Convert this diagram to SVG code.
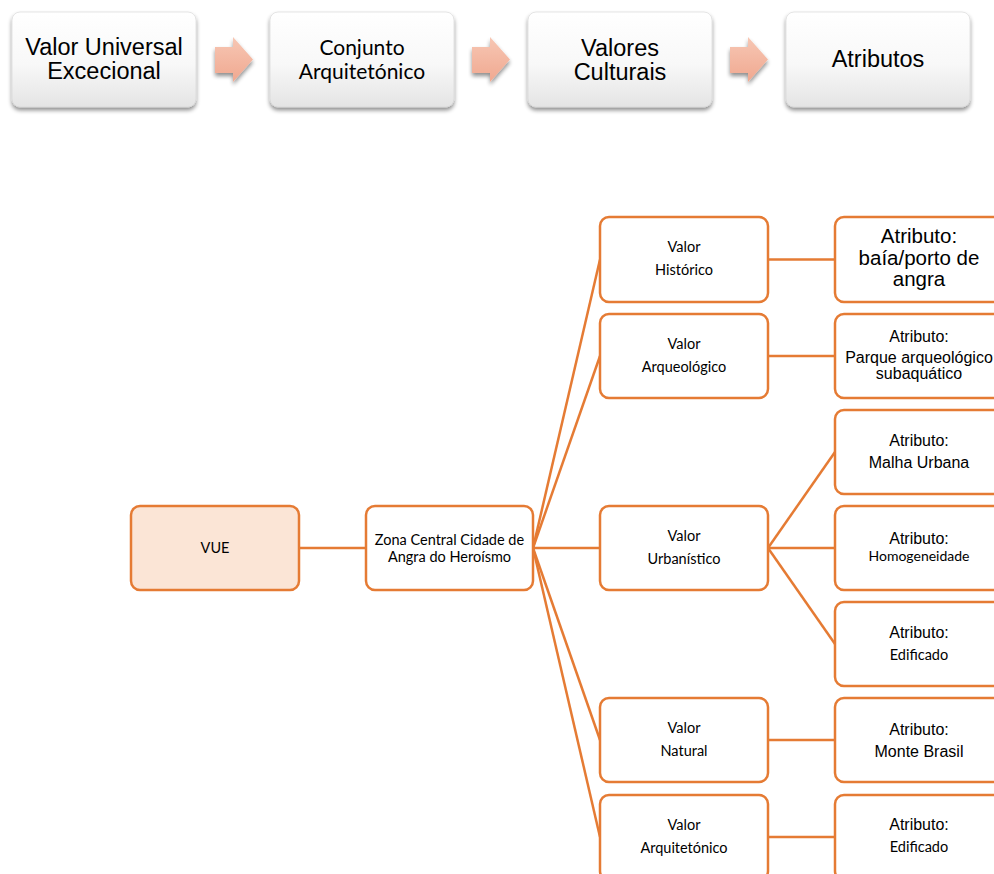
<svg xmlns="http://www.w3.org/2000/svg" width="994" height="874" viewBox="0 0 994 874">
<defs>
  <linearGradient id="boxGrad" x1="0" y1="0" x2="0" y2="1">
    <stop offset="0" stop-color="#FFFFFF"/>
    <stop offset="0.55" stop-color="#F8F8F8"/>
    <stop offset="1" stop-color="#E4E4E4"/>
  </linearGradient>
  <linearGradient id="arrowGrad" x1="0" y1="0" x2="0" y2="1">
    <stop offset="0" stop-color="#F7C7B4"/>
    <stop offset="1" stop-color="#F0A890"/>
  </linearGradient>
  <filter id="shadow" x="-10%" y="-10%" width="120%" height="130%">
    <feGaussianBlur in="SourceAlpha" stdDeviation="2"/>
    <feOffset dx="0" dy="3" result="b"/>
    <feComponentTransfer><feFuncA type="linear" slope="0.45"/></feComponentTransfer>
    <feMerge><feMergeNode/><feMergeNode in="SourceGraphic"/></feMerge>
  </filter>
  <polygon id="arrowShape" points="0,10 18,10 18,0 38,22.5 18,45 18,36 0,36"/>
</defs>
<style>
  .top { fill: url(#boxGrad); stroke: #D4D4D4; stroke-width: 0.6; filter: url(#shadow); }
  .arr { fill: url(#arrowGrad); filter: url(#shadow); }
  .node { fill: #FFFFFF; stroke: #E57B34; stroke-width: 2.5; }
  .vue { fill: #FBE5D6; stroke: #E57B34; stroke-width: 2.5; }
  .conn line { stroke: #E57B34; stroke-width: 2.5; fill: none; }
  .ar { font-family: "Liberation Sans", Arial, sans-serif; fill: #000; text-anchor: middle; }
  .ca { font-family: Lato, "Open Sans", sans-serif; fill: #000; text-anchor: middle; }
</style>

<!-- Top flow -->
<g id="top-vue">
  <rect class="top" x="12" y="12" width="184" height="95" rx="8"/>
  <text class="ar" x="104" y="55" font-size="23.5">Valor Universal</text>
  <text class="ar" x="104" y="79" font-size="23.5">Excecional</text>
</g>
<g id="top-conjunto">
  <rect class="top" x="270" y="12" width="184" height="95" rx="8"/>
  <text class="ca" x="362" y="55" font-size="21">Conjunto</text>
  <text class="ca" x="362" y="79" font-size="21">Arquitetónico</text>
</g>
<g id="top-valores">
  <rect class="top" x="528" y="12" width="184" height="95" rx="8"/>
  <text class="ar" x="620" y="56" font-size="23.5">Valores</text>
  <text class="ar" x="620" y="80" font-size="23.5">Culturais</text>
</g>
<g id="top-atributos">
  <rect class="top" x="786" y="12" width="184" height="95" rx="8"/>
  <text class="ar" x="878" y="67" font-size="23.5">Atributos</text>
</g>
<g id="top-arrows">
  <use href="#arrowShape" class="arr" x="215" y="37"/>
  <use href="#arrowShape" class="arr" x="472" y="37"/>
  <use href="#arrowShape" class="arr" x="730" y="37"/>
</g>

<!-- Connectors -->
<g id="connectors" class="conn">
  <line x1="299" y1="548" x2="366" y2="548"/>
  <line x1="533" y1="548" x2="600" y2="259.5"/>
  <line x1="533" y1="548" x2="600" y2="356"/>
  <line x1="533" y1="548" x2="600" y2="548"/>
  <line x1="533" y1="548" x2="600" y2="740"/>
  <line x1="533" y1="548" x2="600" y2="837"/>
  <line x1="768" y1="259.5" x2="835" y2="259.5"/>
  <line x1="768" y1="356" x2="835" y2="356"/>
  <line x1="768" y1="548" x2="835" y2="452"/>
  <line x1="768" y1="548" x2="835" y2="548"/>
  <line x1="768" y1="548" x2="835" y2="644"/>
  <line x1="768" y1="740" x2="835" y2="740"/>
  <line x1="768" y1="837" x2="835" y2="837"/>
</g>

<!-- Tree nodes -->
<g id="n-vue">
  <rect class="vue" x="131" y="506" width="168" height="84" rx="9"/>
  <text class="ca" x="215" y="553" font-size="14.5">VUE</text>
</g>
<g id="n-zona">
  <rect class="node" x="366" y="506" width="167" height="84" rx="9"/>
  <text class="ca" x="449.5" y="545" font-size="14.5">Zona Central Cidade de</text>
  <text class="ca" x="449.5" y="562" font-size="14.5">Angra do Heroísmo</text>
</g>

<g id="n-historico">
  <rect class="node" x="600" y="217" width="168" height="85" rx="9"/>
  <text class="ca" x="684" y="252" font-size="14.5">Valor</text>
  <text class="ca" x="684" y="275" font-size="14.5">Histórico</text>
</g>
<g id="n-arqueologico">
  <rect class="node" x="600" y="314" width="168" height="84" rx="9"/>
  <text class="ca" x="684" y="348.5" font-size="14.5">Valor</text>
  <text class="ca" x="684" y="371.5" font-size="14.5">Arqueológico</text>
</g>
<g id="n-urbanistico">
  <rect class="node" x="600" y="506" width="168" height="84" rx="9"/>
  <text class="ca" x="684" y="540.5" font-size="14.5">Valor</text>
  <text class="ca" x="684" y="563.5" font-size="14.5">Urbanístico</text>
</g>
<g id="n-natural">
  <rect class="node" x="600" y="698" width="168" height="84" rx="9"/>
  <text class="ca" x="684" y="732.5" font-size="14.5">Valor</text>
  <text class="ca" x="684" y="755.5" font-size="14.5">Natural</text>
</g>
<g id="n-arquitetonico">
  <rect class="node" x="600" y="795" width="168" height="85" rx="9"/>
  <text class="ca" x="684" y="830" font-size="14.5">Valor</text>
  <text class="ca" x="684" y="853" font-size="14.5">Arquitetónico</text>
</g>

<g id="a-baia">
  <rect class="node" x="835" y="217" width="168" height="85" rx="9"/>
  <text class="ar" x="919" y="243" font-size="20.5">Atributo:</text>
  <text class="ar" x="919" y="265" font-size="20.5">baía/porto de</text>
  <text class="ar" x="919" y="286" font-size="20.5">angra</text>
</g>
<g id="a-parque">
  <rect class="node" x="835" y="314" width="168" height="84" rx="9"/>
  <text class="ar" x="919" y="342" font-size="16">Atributo:</text>
  <text class="ar" x="919" y="363" font-size="16">Parque arqueológico</text>
  <text class="ar" x="919" y="379" font-size="16">subaquático</text>
</g>
<g id="a-malha">
  <rect class="node" x="835" y="410" width="168" height="84" rx="9"/>
  <text class="ar" x="919" y="446" font-size="16">Atributo:</text>
  <text class="ar" x="919" y="468" font-size="16">Malha Urbana</text>
</g>
<g id="a-homogeneidade">
  <rect class="node" x="835" y="506" width="168" height="84" rx="9"/>
  <text class="ar" x="919" y="544" font-size="16">Atributo:</text>
  <text class="ca" x="919" y="561" font-size="14">Homogeneidade</text>
</g>
<g id="a-edificado1">
  <rect class="node" x="835" y="602" width="168" height="84" rx="9"/>
  <text class="ar" x="919" y="638" font-size="16">Atributo:</text>
  <text class="ca" x="919" y="660" font-size="14.5">Edificado</text>
</g>
<g id="a-monte">
  <rect class="node" x="835" y="698" width="168" height="84" rx="9"/>
  <text class="ar" x="919" y="735" font-size="16">Atributo:</text>
  <text class="ar" x="919" y="757" font-size="16">Monte Brasil</text>
</g>
<g id="a-edificado2">
  <rect class="node" x="835" y="795" width="168" height="85" rx="9"/>
  <text class="ar" x="919" y="830" font-size="16">Atributo:</text>
  <text class="ca" x="919" y="852" font-size="14.5">Edificado</text>
</g>
</svg>
